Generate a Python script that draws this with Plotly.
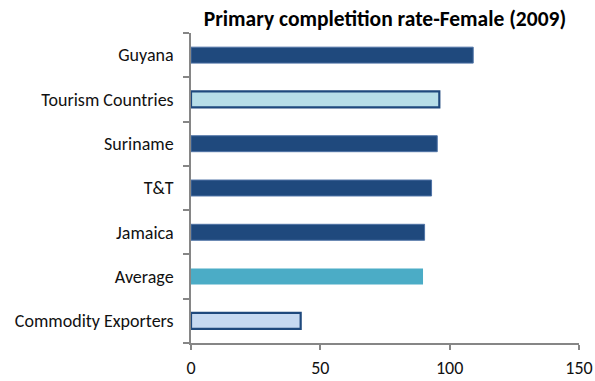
import plotly.graph_objects as go

# Primary completion rate, female, 2009 (top to bottom)
categories = ["Guyana", "Tourism Countries", "Suriname", "T&T", "Jamaica",
              "Average", "Commodity Exporters"]
values = [109.1, 96.0, 95.2, 93.0, 90.3, 89.7, 42.4]
fill_colors = ["#1F497D", "#B7DEE8", "#1F497D", "#1F497D", "#1F497D",
               "#4BACC6", "#C6D9F1"]
edge_colors = ["#4F73A6", "#1F497D", "#4F73A6", "#4F73A6", "#4F73A6",
               "#4BACC6", "#1F497D"]
edge_widths = [1, 2.2, 1, 1, 1, 0, 2.2]
x_ticks = [0, 50, 100, 150]

font_family = "Carlito, Calibri, Lato, sans-serif"

fig = go.Figure(go.Bar(
    x=values,
    y=categories,
    orientation="h",
    width=0.36,
    marker=dict(color=fill_colors,
                line=dict(color=edge_colors, width=edge_widths)),
    hoverinfo="x+y",
))

fig.update_layout(
    width=595, height=381,
    margin=dict(l=191, r=16, t=33, b=38),
    paper_bgcolor="white", plot_bgcolor="white",
    showlegend=False,
    font=dict(family=font_family, size=18, color="#111111"),
    title=dict(text="<b>Primary completition rate-Female (2009)</b>",
               x=0.647, xanchor="center", y=0.952, yanchor="middle",
               font=dict(size=21.5, family=font_family, color="#000000")),
    xaxis=dict(range=[0, 150], tickvals=x_ticks, showgrid=False,
               zeroline=False, showline=True, linecolor="#868686",
               linewidth=1.5, ticks="outside", ticklen=5, tickwidth=1.5,
               tickcolor="#868686", ticklabelstandoff=3, automargin=False,
               fixedrange=True),
    yaxis=dict(categoryorder="array", categoryarray=categories[::-1],
               showgrid=False, zeroline=False, showline=True,
               linecolor="#868686", linewidth=1.5, ticks="outside",
               tickson="boundaries", ticklen=6, tickwidth=1.5,
               tickcolor="#868686", ticklabelstandoff=12, automargin=False,
               fixedrange=True),
    bargap=0.64,
)

fig.write_html("out.html")
